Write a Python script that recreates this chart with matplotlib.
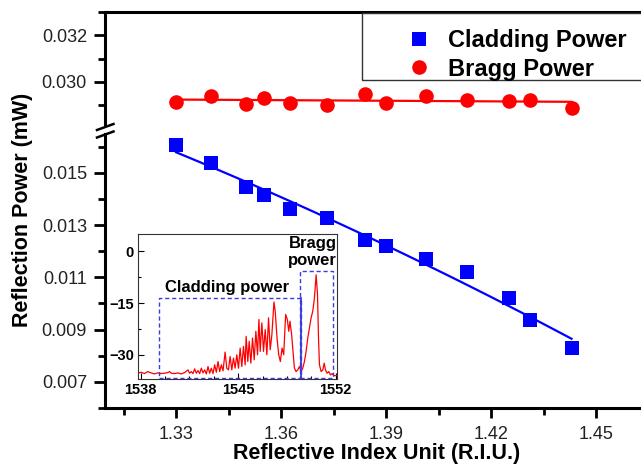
import numpy as np
import matplotlib
matplotlib.use('Agg')
import matplotlib.pyplot as plt
from matplotlib.ticker import FormatStrFormatter
from matplotlib.lines import Line2D
from matplotlib.patches import Rectangle

plt.rcParams['font.family'] = ['Liberation Sans', 'DejaVu Sans']

# main data
riu = [1.330, 1.340, 1.350, 1.355, 1.3625, 1.373, 1.384, 1.390, 1.4015, 1.413, 1.425, 1.431, 1.443]
bragg = [0.02914, 0.02940, 0.02905, 0.02933, 0.02912, 0.02903, 0.02950,
         0.02909, 0.02940, 0.02923, 0.02919, 0.02923, 0.02890]
cladding = [0.01607, 0.01537, 0.01445, 0.01415, 0.01362, 0.01325, 0.01242,
            0.01221, 0.01170, 0.01119, 0.01019, 0.00936, 0.00830]

x_major = [1.33, 1.36, 1.39, 1.42, 1.45]
x_minor = [1.315, 1.345, 1.375, 1.405, 1.435, 1.465]
y_top_major = [0.030, 0.032]
y_top_minor = [0.029, 0.031, 0.033]
y_bot_major = [0.007, 0.009, 0.011, 0.013, 0.015]
y_bot_minor = [0.006, 0.008, 0.010, 0.012, 0.014, 0.016]

# inset spectrum (nm, dB)
wl = [1537.78, 1538.02, 1538.26, 1538.50, 1538.74, 1538.98, 1539.22, 1539.46, 1539.70, 1539.94,
      1540.07, 1540.19, 1540.43, 1540.67, 1540.91, 1541.15, 1541.39, 1541.51, 1541.63, 1541.75,
      1541.87, 1541.99, 1542.11, 1542.23, 1542.35, 1542.47, 1542.59, 1542.71, 1542.83, 1542.95,
      1543.07, 1543.19, 1543.31, 1543.43, 1543.55, 1543.67, 1543.79, 1543.91, 1544.06, 1544.18,
      1544.30, 1544.42, 1544.54, 1544.66, 1544.78, 1544.90, 1545.02, 1545.14, 1545.26, 1545.38,
      1545.50, 1545.57, 1545.69, 1545.79, 1545.91, 1546.03, 1546.15, 1546.27, 1546.39, 1546.49,
      1546.58, 1546.70, 1546.82, 1546.94, 1547.06, 1547.18, 1547.30, 1547.42, 1547.57, 1547.66,
      1547.79, 1547.91, 1548.03, 1548.15, 1548.27, 1548.41, 1548.53, 1548.63, 1548.72, 1548.84,
      1548.94, 1549.04, 1549.16, 1549.28, 1549.40, 1549.52, 1549.64, 1549.76, 1549.88, 1550.00,
      1550.12, 1550.24, 1550.36, 1550.48, 1550.60, 1550.70, 1550.77, 1550.84, 1550.96, 1551.08,
      1551.18, 1551.27, 1551.39, 1551.51, 1551.63, 1551.75, 1551.87, 1552.09]
db = [-35.33, -35.04, -35.43, -34.85, -35.23, -35.53, -35.23, -35.43, -35.33, -35.14,
      -34.85, -35.33, -35.43, -35.23, -35.53, -35.14, -34.36, -35.33, -34.85, -35.43,
      -34.07, -35.33, -34.55, -35.43, -33.87, -35.23, -34.36, -35.53, -33.39, -35.33,
      -33.87, -35.43, -32.90, -35.04, -31.93, -34.85, -32.90, -34.65, -29.20, -33.87,
      -34.36, -30.47, -34.36, -30.95, -33.87, -29.98, -33.87, -28.03, -33.39, -27.55,
      -32.90, -24.63, -31.93, -26.09, -32.41, -25.12, -31.44, -23.17, -29.98, -19.76,
      -29.01, -20.74, -29.01, -22.68, -29.98, -19.28, -28.52, -24.14, -14.70, -17.33,
      -25.12, -29.98, -31.93, -28.03, -29.98, -18.30, -19.76, -23.17, -20.25, -24.14,
      -29.01, -33.87, -34.85, -34.36, -33.39, -34.85, -33.87, -31.93, -29.01, -25.12,
      -22.20, -19.28, -17.33, -13.44, -6.82, -12.47, -25.12, -32.90, -34.85, -34.36,
      -32.41, -34.36, -35.33, -34.85, -35.82, -35.43, -36.01, -36.01]
wl_major = [1538, 1545, 1552]
wl_minor = [1539.75, 1541.5, 1543.25, 1546.75, 1548.5, 1550.25]
db_major = [0, -15, -30]
db_minor = [-7.5, -22.5]

# dashed windows in the inset: (x0, x1, y0, y1)
clad_box = (1539.34, 1549.49, -36.6, -13.44)
bragg_box = (1549.44, 1551.80, -36.6, -5.85)
split_wl = 1549.49

W, H = 641, 465
def fx(px):
    return px / W
def fy(py):
    return 1 - py / H

fig = plt.figure(figsize=(W / 100, H / 100), dpi=100)

left = fx(105)
width = (666 - 105) / W
ax_top = fig.add_axes([left, fy(124), width, 112 / H])
ax_bot = fig.add_axes([left, fy(408), width, (408 - 133.5) / H])

blue = '#0000ff'
red = '#ff0000'
xs = np.linspace(min(riu), max(riu), 100)

pb = np.polyfit(riu, bragg, 1)
ax_top.plot(xs, np.polyval(pb, xs), color=red, lw=1.6, zorder=2)
ax_top.plot(riu, bragg, 'o', color=red, ms=10.5, mew=0, zorder=3)

pc = np.polyfit(riu, cladding, 2)
ax_bot.plot(xs, np.polyval(pc, xs), color=blue, lw=1.6, zorder=2)
ax_bot.plot(riu, cladding, 's', color=blue, ms=9.8, mew=0, zorder=3)

for ax, ymaj, ymin in ((ax_top, y_top_major, y_top_minor), (ax_bot, y_bot_major, y_bot_minor)):
    ax.set_xlim(1.3097, 1.47)
    ax.spines['right'].set_visible(False)
    for s in ('left', 'bottom', 'top'):
        ax.spines[s].set_linewidth(2.2)
    ax.set_yticks(ymaj)
    ax.set_yticks(ymin, minor=True)
    ax.yaxis.set_major_formatter(FormatStrFormatter('%.3f'))
    ax.tick_params(axis='y', which='major', direction='out', length=8, width=2,
                   labelsize=13, labelcolor='#222', pad=5)
    ax.tick_params(axis='y', which='minor', direction='out', length=5, width=2)

ax_top.set_ylim(0.0282, 0.033)
ax_top.spines['bottom'].set_visible(False)
ax_top.tick_params(axis='x', which='both', bottom=False, labelbottom=False)

ax_bot.set_ylim(0.006, 0.0165)
ax_bot.spines['top'].set_visible(False)
ax_bot.set_xticks(x_major)
ax_bot.set_xticks(x_minor, minor=True)
ax_bot.xaxis.set_major_formatter(FormatStrFormatter('%.2f'))
ax_bot.tick_params(axis='x', which='major', direction='out', length=7, width=2,
                   labelsize=13, labelcolor='#222', pad=6)
ax_bot.tick_params(axis='x', which='minor', direction='out', length=5, width=2)

# axis break marks
for y0 in (130, 137.5):
    fig.add_artist(Line2D([fx(97), fx(113.5)], [fy(y0), fy(y0 - 6)],
                          color='black', lw=1.8, transform=fig.transFigure))

fig.text(fx(377), fy(459), 'Reflective Index Unit (R.I.U.)', ha='center',
         va='baseline', fontsize=15.5, weight='bold')
fig.text(fx(23), fy(210), 'Reflection Power (mW)', ha='center', va='center',
         rotation=90, fontsize=15.5, weight='bold')

# legend
fig.add_artist(Rectangle((fx(361.7), fy(80)), fx(700) - fx(361.7), fy(13) - fy(80),
                         transform=fig.transFigure, fill=False, edgecolor='#333',
                         lw=1.0, clip_on=False))
handles = [Line2D([], [], ls='none', marker='s', color=blue, ms=9.8, mew=0),
           Line2D([], [], ls='none', marker='o', color=red, ms=10.5, mew=0)]
fig.legend(handles, ['Cladding Power', 'Bragg Power'], loc='upper left',
           bbox_to_anchor=(fx(393), fy(17)), frameon=False, borderpad=0,
           handlelength=1.2, handletextpad=0.63, labelspacing=0.25,
           prop={'weight': 'bold', 'size': 17})

# inset spectrum
ax_in = fig.add_axes([fx(138), fy(379), 199 / W, 145 / H])
ax_in.plot(wl, db, color=red, lw=0.9)
ax_in.set_xlim(1537.8, 1552.1)
ax_in.set_ylim(-37, 5)
ax_in.set_xticks(wl_major)
ax_in.set_xticks(wl_minor, minor=True)
ax_in.set_yticks(db_major)
ax_in.set_yticks(db_minor, minor=True)
for s in ax_in.spines.values():
    s.set_linewidth(0.8)
    s.set_color('#333')
ax_in.tick_params(which='major', direction='in', length=4, width=0.8, labelsize=10.5, pad=3)
ax_in.tick_params(which='minor', direction='in', length=2.5, width=0.8)
for lab in ax_in.get_xticklabels() + ax_in.get_yticklabels():
    lab.set_fontweight('bold')

box_col = '#3a3ae0'
for x0, x1, y0, y1 in (clad_box, bragg_box):
    ax_in.add_patch(Rectangle((x0, y0), x1 - x0, y1 - y0, fill=False, edgecolor=box_col,
                              lw=1.0, ls=(0, (3, 2)), zorder=3))
ax_in.plot([split_wl, split_wl], [-37, clad_box[3]], color=box_col, lw=1.3, zorder=4)

ax_in.text(1544.2, -10.5, 'Cladding power', ha='center', va='center',
           fontsize=12, weight='bold')
ax_in.text(1550.35, -0.2, 'Bragg\npower', ha='center', va='center',
           fontsize=12, weight='bold', clip_on=False)

fig.savefig('out.png', dpi=100)
